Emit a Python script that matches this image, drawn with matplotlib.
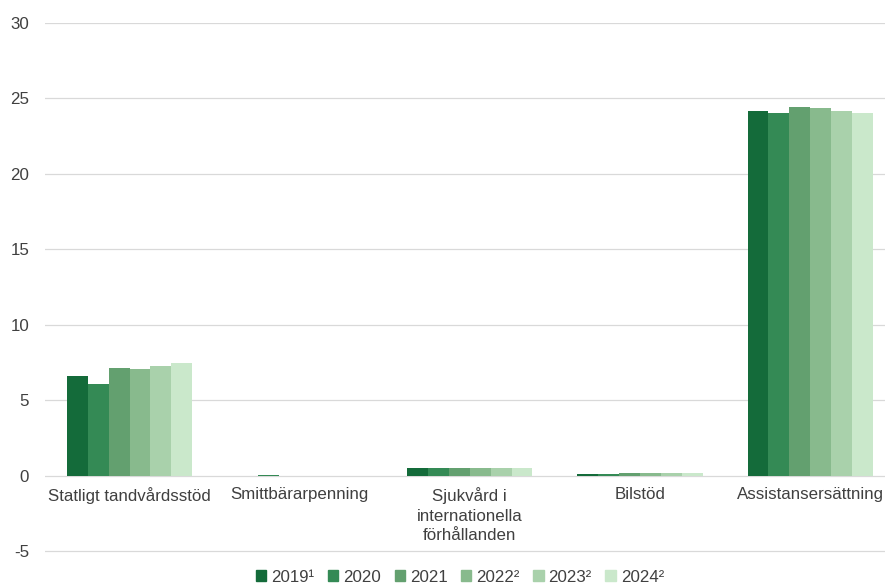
import numpy as np
import matplotlib.pyplot as plt
from matplotlib.patches import Patch

plt.rcParams['font.family'] = ['Liberation Sans', 'DejaVu Sans']
plt.rcParams['axes.unicode_minus'] = False

# Data
kategorier = ["Statligt tandvårdsstöd", "Smittbärarpenning",
              "Sjukvård i\ninternationella\nförhållanden", "Bilstöd",
              "Assistansersättning"]
serier = ["2019¹", "2020", "2021", "2022²", "2023²", "2024²"]
v2019 = [6.62, 0.0, 0.51, 0.15, 24.15]
v2020 = [6.11, 0.08, 0.51, 0.15, 24.02]
v2021 = [7.15, 0.0, 0.50, 0.22, 24.44]
v2022 = [7.07, 0.0, 0.50, 0.21, 24.35]
v2023 = [7.28, 0.0, 0.50, 0.21, 24.17]
v2024 = [7.48, 0.0, 0.50, 0.20, 24.02]
y_ticks = [-5, 0, 5, 10, 15, 20, 25, 30]

varden = [v2019, v2020, v2021, v2022, v2023, v2024]
farger = ["#146b3a", "#348a55", "#63a06f", "#88ba8d", "#a9d1ab", "#cae8cb"]
textfarg = '#404040'

fig = plt.figure(figsize=(8.85, 5.87), dpi=100)
ax = fig.add_axes([44.5 / 885, 1 - 553 / 587, (885 - 44.5) / 885, (553 - 23) / 587])

x = np.arange(len(kategorier))
bredd = 0.1225
for i, (namn, v, f) in enumerate(zip(serier, varden, farger)):
    ax.bar(x + (i - 2.5) * bredd, v, width=bredd, color=f, label=namn, zorder=3)

ax.set_ylim(-5.1, 30)
ax.set_xlim(-0.5, 4.44)
ax.set_yticks(y_ticks)
ax.set_yticklabels([str(t) for t in y_ticks])
ax.set_xticks([])
ax.grid(axis='y', color='#d9d9d9', linewidth=0.9, zorder=0)
for s in ax.spines.values():
    s.set_visible(False)
ax.tick_params(axis='both', length=0, labelsize=12.2, colors=textfarg)
ax.tick_params(axis='y', pad=11)

# kategorinamn direkt under nollinjen
for xi, namn in zip(x, kategorier):
    ax.annotate(namn, xy=(xi, 0), xytext=(0, -8), textcoords='offset points',
                ha='center', va='top', fontsize=12.2, color=textfarg,
                linespacing=1.38, annotation_clip=False)

handles = [Patch(color=f, label=n) for n, f in zip(serier, farger)]
fig.legend(handles=handles, loc='center', bbox_to_anchor=(460 / 885, 1 - 577 / 587),
           ncol=6, frameon=False, fontsize=12.2, handlelength=0.6, handleheight=0.6,
           handletextpad=0.3, columnspacing=0.8, labelcolor=textfarg)

fig.savefig("out.png", dpi=100)
plt.close(fig)
